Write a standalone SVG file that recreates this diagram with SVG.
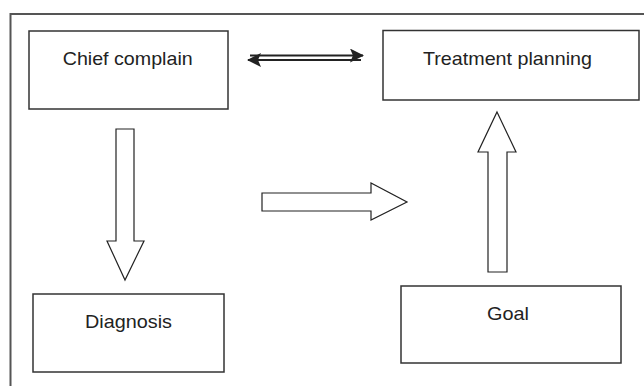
<svg xmlns="http://www.w3.org/2000/svg" width="644" height="386" viewBox="0 0 644 386">
<style>
.box{fill:#fff;stroke:#333;stroke-width:1.5}
.lbl{font-family:"Liberation Sans",Arial,sans-serif;font-size:19px;fill:#222}
.blk{fill:#fff;stroke:#222;stroke-width:1.2;stroke-linejoin:miter}
.ln{stroke:#222;stroke-width:1.8;fill:none}
.frame{fill:none;stroke:#555;stroke-width:2}
</style>
<defs>
<marker id="ah" viewBox="0 0 14 14" refX="13" refY="7" markerWidth="14" markerHeight="14" markerUnits="userSpaceOnUse" orient="auto">
<path d="M0,0 L14,7 L0,14 L3,7 Z" fill="#222"/>
</marker>
</defs>
<rect width="644" height="386" fill="#fff"/>
<path class="frame" d="M10.5,386 V14 H644"/>
<g id="chief"><rect class="box" x="29" y="31" width="199" height="78"/><text class="lbl" x="62.7" y="64.5" textLength="130" lengthAdjust="spacingAndGlyphs">Chief complain</text></g>
<g id="treatment"><rect class="box" x="383" y="30.5" width="256" height="69.5"/><text class="lbl" x="423" y="64.5" textLength="169" lengthAdjust="spacingAndGlyphs">Treatment planning</text></g>
<g id="diagnosis"><rect class="box" x="33" y="294" width="191" height="78"/><text class="lbl" x="85" y="328" textLength="87" lengthAdjust="spacingAndGlyphs">Diagnosis</text></g>
<g id="goal"><rect class="box" x="401" y="286" width="220" height="77"/><text class="lbl" x="487" y="320" textLength="42" lengthAdjust="spacingAndGlyphs">Goal</text></g>
<g id="connectors">
<line class="ln" x1="250" y1="55.5" x2="363" y2="55.5" marker-end="url(#ah)"/>
<line class="ln" x1="361" y1="60" x2="248" y2="60" marker-end="url(#ah)"/>
<polygon class="blk" points="116,129 134,129 134,241 144,241 125,280 107,241 116,241"/>
<polygon class="blk" points="262,193 371,193 371,183 407,202 371,220 371,211 262,211"/>
<polygon class="blk" points="497,112 516,152 507,152 507,272 488,272 488,152 478,152"/>
</g>
</svg>
